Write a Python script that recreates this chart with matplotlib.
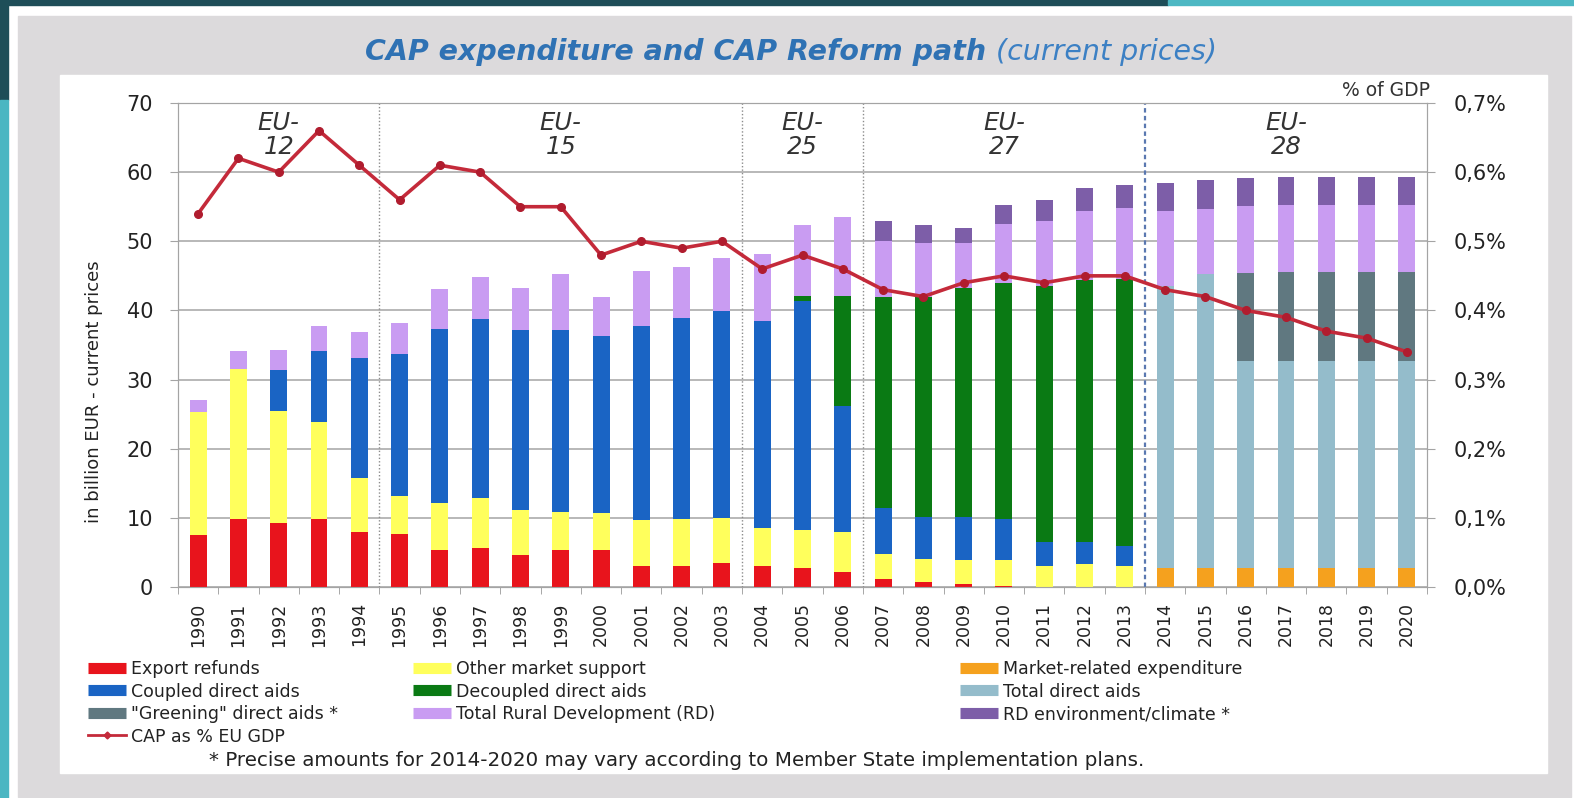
import matplotlib
matplotlib.use('Agg')
import matplotlib.pyplot as plt
from matplotlib.patches import Rectangle
from matplotlib.lines import Line2D
import numpy as np

W, H = 1574, 798

years = list(range(1990, 2021))

# segment values, billion EUR
export_refunds = [7.5, 9.8, 9.2, 9.9, 7.9, 7.6, 5.4, 5.7, 4.6, 5.3, 5.4, 3.1, 3.1, 3.4, 3.1, 2.8, 2.2,
                  1.1, 0.7, 0.4, 0.2, 0, 0, 0, 0, 0, 0, 0, 0, 0, 0]
other_market = [17.8, 21.8, 16.3, 14.0, 7.8, 5.5, 6.8, 7.2, 6.5, 5.6, 5.3, 6.6, 6.7, 6.6, 5.4, 5.5, 5.8,
                3.7, 3.3, 3.5, 3.7, 3.1, 3.3, 3.0, 0, 0, 0, 0, 0, 0, 0]
market_related = [0] * 24 + [2.8, 2.8, 2.8, 2.8, 2.8, 2.8, 2.8]
coupled = [0, 0, 5.9, 10.2, 17.4, 20.6, 25.1, 25.8, 26.0, 26.2, 25.6, 28.1, 29.1, 29.9, 29.9, 33.0, 18.2,
           6.6, 6.1, 6.2, 5.9, 3.4, 3.2, 3.0, 0, 0, 0, 0, 0, 0, 0]
decoupled = [0] * 15 + [0.8, 15.9, 30.5, 31.9, 33.1, 34.1, 37.0, 37.9, 38.5, 0, 0, 0, 0, 0, 0, 0]
total_direct = [0] * 24 + [40.8, 42.4, 29.9, 29.9, 29.9, 29.9, 29.9]
greening = [0] * 26 + [12.7, 12.9, 12.9, 12.9, 12.9]
rural_dev = [1.8, 2.5, 2.9, 3.7, 3.8, 4.5, 5.8, 6.2, 6.1, 8.1, 5.6, 7.9, 7.4, 7.7, 9.7, 10.2, 11.4,
             8.2, 7.8, 6.6, 8.6, 9.5, 10.0, 10.3, 10.8, 9.5, 9.7, 9.7, 9.7, 9.7, 9.7]
rd_env = [0] * 17 + [2.8, 2.5, 2.1, 2.8, 2.9, 3.3, 3.3, 4.1, 4.1, 4.0, 4.0, 4.0, 4.0, 4.0]

# CAP as % of EU GDP
cap_gdp = [0.54, 0.62, 0.60, 0.66, 0.61, 0.56, 0.61, 0.60, 0.55, 0.55, 0.48, 0.50, 0.49, 0.50, 0.46,
           0.48, 0.46, 0.43, 0.42, 0.44, 0.45, 0.44, 0.45, 0.45, 0.43, 0.42, 0.40, 0.39, 0.37, 0.36, 0.34]

region_names = ["EU-\n12", "EU-\n15", "EU-\n25", "EU-\n27", "EU-\n28"]
region_start = [1990, 1995, 2004, 2007, 2014]

series = [
    ("Export refunds", export_refunds, "#e8141c"),
    ("Other market support", other_market, "#ffff5c"),
    ("Market-related expenditure", market_related, "#f5a11e"),
    ("Coupled direct aids", coupled, "#1a64c4"),
    ("Decoupled direct aids", decoupled, "#0a7a14"),
    ("Total direct aids", total_direct, "#94bccb"),
    ('"Greening" direct aids *', greening, "#607880"),
    ("Total Rural Development (RD)", rural_dev, "#c99cf2"),
    ("RD environment/climate *", rd_env, "#7d5ea8"),
]
line_color = "#c42a3a"


def px(x, y):
    return x / W, 1 - y / H


plt.rcParams['font.family'] = ['DejaVu Sans']
fig = plt.figure(figsize=(W / 100, H / 100), dpi=100)
fig.patch.set_facecolor('white')

# slide background frame
def frect(x0, y0, x1, y1, color, z=-10):
    fig.patches.append(Rectangle((x0 / W, 1 - y1 / H), (x1 - x0) / W, (y1 - y0) / H,
                                 transform=fig.transFigure, color=color, zorder=z))

frect(0, 0, 1168, 5, "#1e4e58")
frect(1168, 0, W, 5, "#4db8c3")
frect(0, 0, 8, 100, "#1e4e58")
frect(0, 100, 8, H, "#4bb6c2")
frect(18, 16, 1571, 797, "#dcdadc")
frect(60, 75, 1547, 773, "white")

l, b = px(178, 587)
r, t = px(1427, 103)
ax = fig.add_axes([l, b, r - l, t - b])
ax.patch.set_alpha(0)

x = np.arange(len(years))
bottom = np.zeros(len(years))
for name, vals, col in series:
    vals = np.array(vals, dtype=float)
    ax.bar(x, vals, width=0.42, bottom=bottom, color=col, edgecolor='none', zorder=3)
    bottom += vals

ax.set_xlim(-0.5, len(years) - 0.5)
ax.set_ylim(0, 70)
ax.set_yticks(range(0, 71, 10))
ax.yaxis.grid(True, color='#a4a4a4', lw=1.1)
ax.set_axisbelow(True)
ax.set_xticks(x)
ax.set_xticklabels([str(y) for y in years], rotation=90, fontsize=12.5, color='#222')
ax.set_xticks(np.arange(-0.5, len(years), 1), minor=True)
ax.tick_params(axis='x', which='major', length=0, pad=11)
ax.tick_params(axis='x', which='minor', length=5, color='#999', direction='out')
ax.tick_params(axis='y', length=6, color='#a4a4a4', pad=12, labelsize=15, labelcolor='#222')
for s in ax.spines.values():
    s.set_color('#a4a4a4')

# enlargement separators and labels
idx_start = [years.index(y) for y in region_start]
for i, st in enumerate(idx_start[1:]):
    if i == len(idx_start) - 2:
        ax.axvline(st - 0.5, color='#5a78b0', lw=1.6, ls=(0, (2, 1.5)), zorder=1)
    else:
        ax.axvline(st - 0.5, color='#8c8c8c', lw=1.0, ls=(0, (1, 1.5)), zorder=1)
idx_end = idx_start[1:] + [len(years)]
for name, s0, s1 in zip(region_names, idx_start, idx_end):
    ax.text((s0 + s1 - 1) / 2, 65.3, name, ha='center', va='center', style='italic',
            fontsize=17.5, color='#333', linespacing=1.0)

ax2 = ax.twinx()
ax2.set_ylim(0, 0.7)
ax2.plot(x, cap_gdp, color=line_color, lw=2.6, marker='o', ms=5.5, mfc='#b01c2e', mec='#b01c2e', zorder=5)
ax2.set_yticks(np.arange(0, 0.71, 0.1))
ax2.set_yticklabels([f"{v:.1f}%".replace('.', ',') for v in np.arange(0, 0.71, 0.1)])
ax2.tick_params(axis='y', length=6, color='#a4a4a4', pad=13, labelsize=15, labelcolor='#222')
for s in ax2.spines.values():
    s.set_color('#a4a4a4')

fig.text(*px(1430, 90), "% of GDP", ha='right', va='center', fontsize=13.5, color='#333')
fig.text(*px(94, 392), "in billion EUR - current prices", rotation=90, ha='center', va='center',
         fontsize=13, color='#222')

# title in two styles, centred as a whole
t1 = fig.text(0, 1 - 52 / H, "CAP expenditure and CAP Reform path", ha='left', va='center', fontsize=20.5,
              fontweight='bold', style='italic', color='#2f72b4')
t2 = fig.text(0, 1 - 52 / H, "(current prices)", ha='left', va='center', fontsize=20.5, style='italic',
              color='#3c80c4')
fig.canvas.draw()
rend = fig.canvas.get_renderer()
w1 = t1.get_window_extent(rend).width
w2 = t2.get_window_extent(rend).width
gap = 9
x0 = 791 - (w1 + gap + w2) / 2
t1.set_x(x0 / W)
t2.set_x((x0 + w1 + gap) / W)

# legend, three columns
handles = {name: Line2D([], [], color=col, lw=8, solid_capstyle='butt') for name, _, col in series}
cap_handle = Line2D([], [], color=line_color, lw=2, marker='D', ms=3.5)
cols = [
    (88, ["Export refunds", "Coupled direct aids", '"Greening" direct aids *']),
    (413, ["Other market support", "Decoupled direct aids", "Total Rural Development (RD)"]),
    (960, ["Market-related expenditure", "Total direct aids", "RD environment/climate *"]),
]
for i, (xp, names) in enumerate(cols):
    hs = [handles[n] for n in names]
    labs = list(names)
    if i == 0:
        hs.append(cap_handle)
        labs.append("CAP as % EU GDP")
    fig.legend(hs, labs, loc='upper left', bbox_to_anchor=px(xp, 660), frameon=False, fontsize=12.5,
               handlelength=2.2, handletextpad=0.3, labelspacing=0.26, borderpad=0, borderaxespad=0,
               labelcolor='#222')

fig.text(*px(677, 761), "* Precise amounts for 2014-2020 may vary according to Member State implementation plans.",
         ha='center', va='center', fontsize=14.3, color='#222')

fig.savefig('out.png', dpi=100)
